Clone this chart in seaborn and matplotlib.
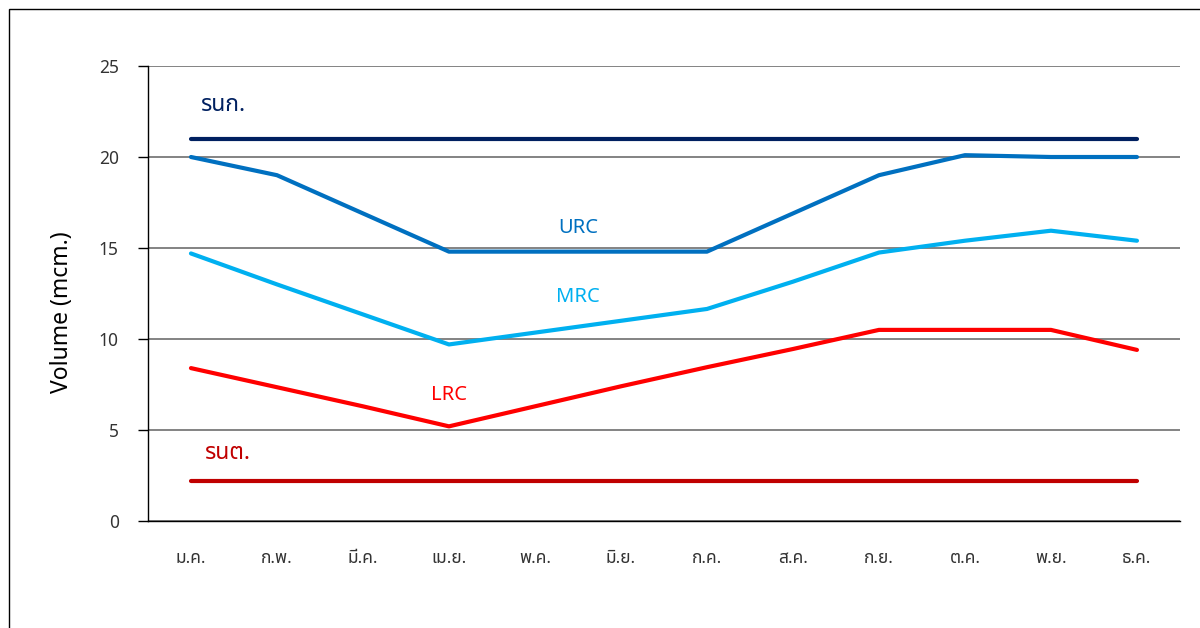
import pandas as pd
import seaborn as sns
import matplotlib.pyplot as plt
from matplotlib.patches import Rectangle
from matplotlib.ticker import MultipleLocator

# month labels (Thai)
months = ['ม.ค.', 'ก.พ.', 'มี.ค.', 'เม.ย.', 'พ.ค.', 'มิ.ย.',
          'ก.ค.', 'ส.ค.', 'ก.ย.', 'ต.ค.', 'พ.ย.', 'ธ.ค.']

# rule curves, volume in mcm.
upper_limit = [21.0] * 12
urc = [20.0, 19.0, 16.9, 14.8, 14.8, 14.8, 14.8, 16.9, 19.0, 20.1, 20.0, 20.0]
mrc = [14.7, 13.0, 11.35, 9.7, 10.35, 11.0, 11.65, 13.15, 14.75, 15.4, 15.95, 15.4]
lrc = [8.4, 7.35, 6.3, 5.2, 6.3, 7.4, 8.45, 9.45, 10.5, 10.5, 10.5, 9.4]
lower_limit = [2.2] * 12

sns.set_theme(style='white')
plt.rcParams['font.family'] = ['Noto Sans Thai', 'Noto Sans Thai UI', 'Loma', 'Garuda',
                               'Tlwg Typo', 'Waree', 'Sarabun', 'DejaVu Sans']

df = pd.DataFrame({'month': months, 'upper': upper_limit, 'urc': urc,
                   'mrc': mrc, 'lrc': lrc, 'lower': lower_limit})

fig = plt.figure(figsize=(12, 6.28), dpi=100)
ax = fig.add_axes([0.1233, 0.1704, 0.86, 0.7245])

series = [('upper', '#002060'), ('urc', '#0070C0'), ('mrc', '#00B0F0'),
          ('lrc', '#FF0000'), ('lower', '#C00000')]
for col, c in series:
    sns.lineplot(data=df, x='month', y=col, color=c, lw=3, ax=ax,
                 solid_capstyle='round', sort=False)

ax.set_xlim(-0.5, 11.5)
ax.set_ylim(0, 25)
ax.yaxis.set_major_locator(MultipleLocator(5))
ax.grid(axis='y', color='#7a7a7a', lw=1.3)
ax.set_axisbelow(True)
for s in ['top', 'right']:
    ax.spines[s].set_visible(False)
for s in ['left', 'bottom']:
    ax.spines[s].set_color('black')
    ax.spines[s].set_linewidth(1)

ax.set_xticks(range(12))
ax.set_xticklabels(months)
ax.set_xticks([i - 0.5 for i in range(13)], minor=True)
ax.tick_params(axis='x', which='major', length=0, pad=20, labelsize=12.5, labelcolor='#333333')
ax.tick_params(axis='x', which='minor', length=7, width=1, color='black', direction='out')
ax.tick_params(axis='y', length=7, width=1, color='black', direction='out', pad=14,
               labelsize=12.5, labelcolor='#333333', left=True)

ax.set_xlabel('')
ax.set_ylabel('Volume (mcm.)', fontsize=16.5, color='black')
ax.yaxis.set_label_coords(-0.072, 0.46)

ax.text(0.1, 22.2, 'รนก.', color='#002060', fontsize=16.5, fontweight='bold', va='bottom')
ax.text(4.5, 16.1, 'URC', color='#0070C0', fontsize=14.5, ha='center', va='center')
ax.text(4.5, 12.3, 'MRC', color='#00B0F0', fontsize=14.5, ha='center', va='center')
ax.text(3.0, 6.9, 'LRC', color='#FF0000', fontsize=14.5, ha='center', va='center')
ax.text(0.15, 3.1, 'รนต.', color='#C00000', fontsize=16.5, fontweight='bold', va='bottom')

# outer frame
fig.patches.append(Rectangle((9 / 1200, -0.1), 1.5, 1.1 - 9 / 628, transform=fig.transFigure,
                             fill=False, edgecolor='black', lw=1))

fig.savefig('out.png', dpi=100)
